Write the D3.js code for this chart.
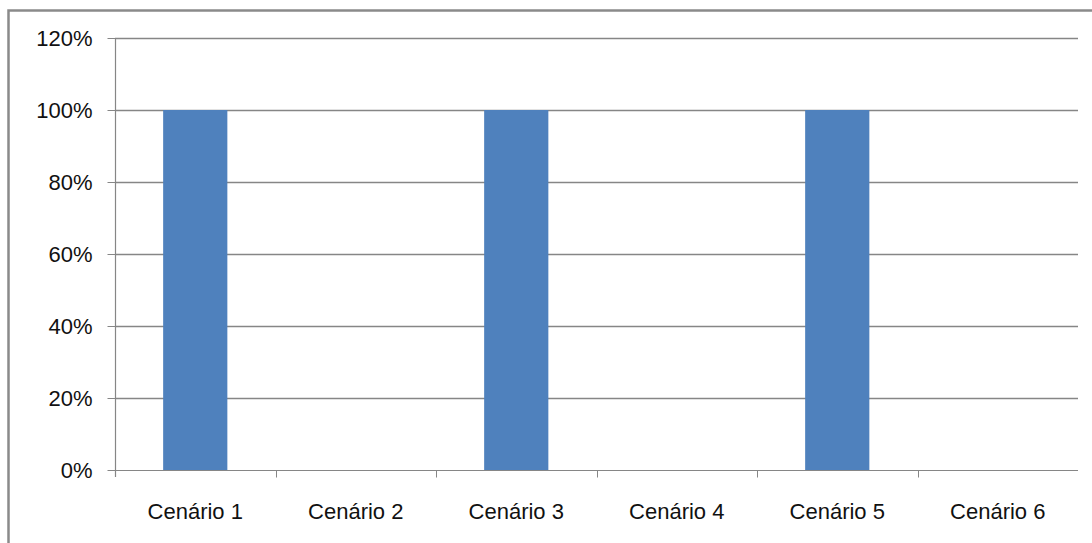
<!DOCTYPE html>
<html><head><meta charset="utf-8">
<script src="https://cdn.jsdelivr.net/npm/d3@7"></script>
<style>html,body{margin:0;padding:0;background:#fff;}svg{display:block;}</style>
</head><body>
<script>
const categories = ["Cenário 1","Cenário 2","Cenário 3","Cenário 4","Cenário 5","Cenário 6"];
const values = [1.0, 0, 1.0, 0, 1.0, 0];
const yTicks = [0, 0.2, 0.4, 0.6, 0.8, 1.0, 1.2];

(function () {
const W = 1092, H = 543;
const pL = 115, pR = 1078, pT = 38, pB = 470;
const svg = d3.select("body").append("svg").attr("width", W).attr("height", H);

// frame
svg.append("rect").attr("x", 8.5).attr("y", 10.5).attr("width", W + 20).attr("height", H + 20)
  .attr("fill", "#fff").attr("stroke", "#8a8a8a").attr("stroke-width", 2.5);

const x = d3.scaleBand().domain(categories).range([pL, pR]).padding(0);
const y = d3.scaleLinear().domain([0, 1.2]).range([pB, pT]);
const font = "'Liberation Sans', Arial, sans-serif";
const grey = "#868686";

// gridlines
svg.append("g").selectAll("line").data(yTicks.filter(d => d > 0)).join("line")
  .attr("x1", pL).attr("x2", pR)
  .attr("y1", d => Math.round(y(d)) + 0.5).attr("y2", d => Math.round(y(d)) + 0.5)
  .attr("stroke", grey).attr("stroke-width", 1.4);

// bars
const bw = x.bandwidth() * 0.4;
svg.append("g").selectAll("rect").data(values).join("rect")
  .attr("x", (d, i) => x(categories[i]) + (x.bandwidth() - bw) / 2)
  .attr("width", bw)
  .attr("y", d => y(d))
  .attr("height", d => y(0) - y(d))
  .attr("fill", "#4F81BD");

// y axis
const yAxis = d3.axisLeft(y).tickValues(yTicks).tickFormat(d3.format(".0%")).tickSize(8).tickPadding(15);
const gy = svg.append("g").attr("transform", `translate(${pL + 0.5},0)`).call(yAxis);
gy.select(".domain").attr("stroke", grey).attr("stroke-width", 1.2).attr("d", `M0,${pT}V${pB + 7}`);
gy.selectAll(".tick line").attr("stroke", grey);
gy.selectAll(".tick text").attr("font-family", font).attr("font-size", 22).attr("fill", "#111");

// x axis
const xAxis = d3.axisBottom(x).tickSize(0).tickPadding(33);
const gx = svg.append("g").attr("transform", `translate(0,${pB + 0.5})`).call(xAxis);
gx.select(".domain").attr("stroke", grey).attr("stroke-width", 1.2).attr("d", `M${pL},0H${pR}`);
gx.selectAll(".tick text").attr("font-family", font).attr("font-size", 22).attr("fill", "#111");
// category boundary ticks
gx.append("g").selectAll("line").data(categories.slice(1)).join("line")
  .attr("x1", d => Math.round(x(d)) + 0.5).attr("x2", d => Math.round(x(d)) + 0.5)
  .attr("y1", 0).attr("y2", 7).attr("stroke", grey);
})();
</script>
</body></html>
